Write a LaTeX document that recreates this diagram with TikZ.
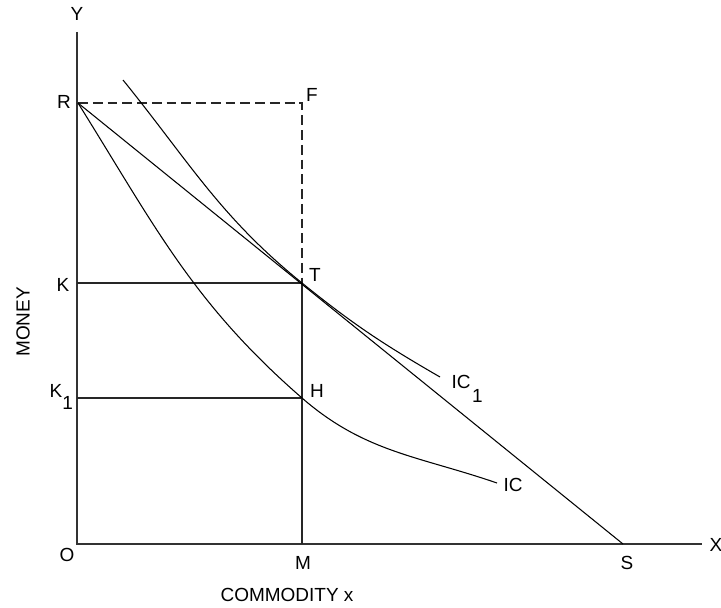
\documentclass[tikz,border=0pt]{standalone}
\usepackage{fontspec}
\setmainfont{Liberation Sans}
\begin{document}
\begin{tikzpicture}[
    x=0.025cm,
    y=0.025cm,
    every node/.style={font=\fontsize{13.5}{16}\selectfont, inner sep=1pt},
    axis/.style={line width=1.3pt, black!80},
    guide/.style={line width=1.1pt, black!85},
    curve/.style={line width=0.75pt, black},
    proj/.style={line width=1.1pt, black!85, dash pattern=on 7pt off 3.5pt}
  ]
  \useasboundingbox (-77,-63) rectangle (644,544);

  % --- 1. points ---
  \coordinate (O) at (0,0);
  \coordinate (Xend) at (625,0);
  \coordinate (Yend) at (0,512);
  \coordinate (R) at (1,441);
  \coordinate (F) at (225,441);
  \coordinate (T) at (225,261);
  \coordinate (K) at (0,261);
  \coordinate (H) at (225,146);
  \coordinate (Kone) at (0,146);
  \coordinate (M) at (225,0);
  \coordinate (S) at (546,0);
  \coordinate (IConeStart) at (46,464);
  \coordinate (IConeEnd) at (363,167);
  \coordinate (ICEnd) at (420,61);

  % --- 2. axes ---
  \draw[axis] (Yend) -- (O) -- (Xend);
  \node (Ylab) at (0,530) {Y};
  \node (Xlab) at (639,-1) {X};
  \node (Olab) at (-10,-11) {O};
  \node (Mlab) at (226,-19) {M};
  \node (Slab) at (550,-19) {S};
  \node (xlab) at (210,-51) {COMMODITY x};
  \node[rotate=90] (ylab) at (-54,222) {MONEY};

  % --- 3. guide lines ---
  \draw[proj] (R) -- (F) -- (T);
  \draw[guide] (K) -- (T) -- (M);
  \draw[guide] (Kone) -- (H);

  % --- 4. budget line and indifference curves ---
  \draw[curve] (R) -- (S);
  \draw[curve] (IConeStart) to[out=-51, in=141] (T) to[out=-39, in=150] (IConeEnd);
  \draw[curve] (R) to[out=-58, in=139] (H) to[out=-41, in=161] (ICEnd);

  % --- 5. labels ---
  \node (Rlab) at (-13,442) {R};
  \node (Flab) at (235,449) {F};
  \node (Tlab) at (238,269) {T};
  \node (Hlab) at (240,153) {H};
  \node (Klab) at (-14,259) {K};
  \node[anchor=base west] (Konelab) at (-29,147) {K\raisebox{-9pt}{1}};
  \node[anchor=base west] (IConeLab) at (373,156) {IC\kern1pt\raisebox{-10pt}{1}};
  \node (IClab) at (436,59) {IC};

\end{tikzpicture}
\end{document}
